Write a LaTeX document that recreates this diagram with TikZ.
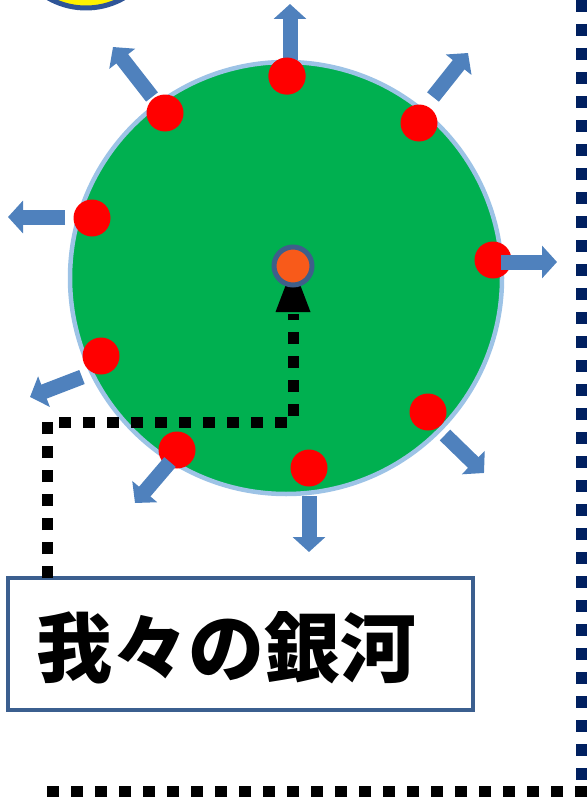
\documentclass[tikz,border=0pt]{standalone}
\usepackage{fontspec}
\newfontfamily\cjk{Noto Sans CJK JP}
\usetikzlibrary{arrows.meta}
\definecolor{galgreen}{HTML}{00B050}
\definecolor{galrim}{HTML}{9DC3E6}
\definecolor{arrblue}{HTML}{4F81BD}
\definecolor{navy}{HTML}{002060}
\definecolor{boxblue}{HTML}{3B5F8F}
\definecolor{coreorange}{HTML}{F85A1A}
\definecolor{corerim}{HTML}{3E5F8A}
\definecolor{sunrim}{HTML}{2F5597}
\tikzset{
  star/.style={circle, fill=red, draw=none, minimum size=37pt, inner sep=0pt},
  outarrow/.style={draw=arrblue, line width=15pt, -{Triangle[width=32pt,length=15pt]}},
  dotline/.style={line width=11pt, dash pattern=on 12pt off 12pt},
}
\begin{document}
\begin{tikzpicture}[x=1pt,y=-1pt]
\useasboundingbox (0,0) rectangle (587,800);
% partial sun at top-left
\draw[sunrim, line width=5pt, fill=yellow] (86,-68) circle (76);
% galaxy
\node[circle, fill=galgreen, draw=galrim, line width=4.5pt, minimum size=432pt, inner sep=0pt] (gal) at (286,278) {};
% label box
\node[draw=boxblue, line width=4pt, fill=white, minimum width=465pt, minimum height=132pt, inner sep=0pt] (lbl) at (240.5,644) {};
\node[inner sep=0pt] (lbltext) at (226,648) {\cjk\bfseries\fontsize{76}{76}\selectfont 我々の銀河};
% stars
\node[star] (d1) at (287,76) {};
\node[star] (d2) at (419,123) {};
\node[star] (d3) at (493,260) {};
\node[star] (d4) at (428,412) {};
\node[star] (d5) at (309,468) {};
\node[star] (d6) at (177,450) {};
\node[star] (d7) at (101,356) {};
\node[star] (d8) at (92,218) {};
\node[star] (d9) at (165,113) {};
% outward arrows
\coordinate (a1s) at (290,60); \coordinate (a1e) at (290,4);
\coordinate (a2s) at (433,97); \coordinate (a2e) at (468,53);
\coordinate (a3s) at (501,262); \coordinate (a3e) at (557,262);
\coordinate (a4s) at (445,435); \coordinate (a4e) at (484,473);
\coordinate (a5s) at (309,496); \coordinate (a5e) at (309,552);
\coordinate (a6s) at (170,462); \coordinate (a6e) at (135,503);
\coordinate (a7s) at (82,377); \coordinate (a7e) at (30,397);
\coordinate (a8s) at (65,217); \coordinate (a8e) at (8,217);
\coordinate (a9s) at (152,97); \coordinate (a9e) at (113,47);
\foreach \i in {1,...,9} { \draw[outarrow] (a\i s) -- (a\i e); }
\node[star] at (287,76) {};
% dotted arrow from label to core
\coordinate (c1) at (47,422);
\coordinate (c2) at (293,422);
\coordinate (corept) at (293,266);
\draw[dotline] (47,578) -- (c1) -- (c2) -- (293,314);
\fill (275.5,312) -- (310.5,312) -- (293,266) -- cycle;
\node[circle, fill=coreorange, draw=corerim, line width=5pt, minimum size=38pt, inner sep=0pt] (core) at (corept) {};
% frame lines
\coordinate (n1) at (581,0);
\coordinate (n2) at (581,786);
\coordinate (b1) at (587,791);
\coordinate (b2) at (38,791);
\draw[dotline, navy] (n1) -- (n2);
\draw[dotline, black] (b1) -- (b2);
\end{tikzpicture}
\end{document}
